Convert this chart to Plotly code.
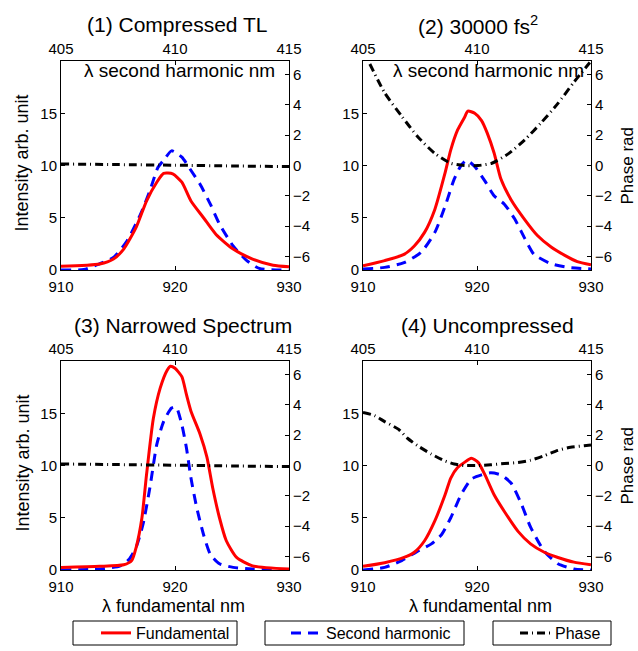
import plotly.graph_objects as go

# ---------------- data ----------------
titles = ["(1) Compressed TL", "(2) 30000 fs<sup>2</sup>", "(3) Narrowed Spectrum", "(4) Uncompressed"]

# Panel 1
p1_fund_x = [910, 913.4, 914.6, 915.5, 916.6, 917.5, 918.4, 919.0, 919.8, 920.6, 921.4, 922.5, 923.6, 925.1, 926.8, 928.6, 930]
p1_fund_y = [0.35, 0.57, 1.05, 2.0, 4.1, 6.6, 8.4, 9.25, 9.2, 8.4, 6.6, 5.0, 3.4, 2.0, 1.05, 0.45, 0.3]
p1_sh_x = [910, 912, 913.4, 914.6, 915.8, 917, 917.8, 918.5, 919.0, 919.7, 920.6, 921.3, 922.2, 923.1, 923.9, 925.1, 926.3, 927.4, 930]
p1_sh_y = [0.0, 0.05, 0.6, 1.2, 2.8, 5.4, 7.6, 9.8, 10.5, 11.4, 10.8, 9.7, 8.2, 6.3, 4.4, 2.3, 0.9, 0.15, 0.0]
p1_ph_x = [910, 915, 920, 925, 930]
p1_ph_y = [0.1, 0.06, 0.02, -0.03, -0.07]

# Panel 2
p2_fund_x = [910, 911.9, 913.6, 914.5, 915.4, 916.3, 917.2, 917.7, 918.3, 918.9, 919.2, 919.8, 920.4, 920.9, 921.5, 922.1, 923.0, 924.2, 925.3, 926.5, 927.7, 928.8, 930]
p2_fund_y = [0.4, 0.9, 1.5, 2.3, 3.6, 5.8, 9.3, 11.5, 13.4, 14.6, 15.2, 15.0, 14.3, 13.1, 11.2, 8.7, 6.7, 4.8, 3.3, 2.2, 1.4, 0.8, 0.5]
p2_sh_x = [910, 911.9, 913.6, 915.1, 916.3, 917.2, 918.0, 918.6, 919.1, 919.8, 920.7, 921.5, 922.4, 923.3, 924.2, 925.0, 926.5, 928.0, 930]
p2_sh_y = [0.1, 0.25, 0.7, 1.7, 3.6, 6.1, 8.7, 10.0, 10.5, 9.9, 8.5, 7.1, 6.3, 4.9, 3.0, 1.5, 0.6, 0.25, 0.1]
p2_ph_x = [910.6, 911.9, 913.4, 914.8, 916.3, 917.7, 918.9, 920.1, 921.3, 922.8, 924.2, 925.6, 927.1, 928.5, 929.9]
p2_ph_y = [6.7, 4.8, 3.25, 1.9, 0.8, 0.15, 0.0, 0.0, 0.15, 0.8, 1.7, 2.8, 4.1, 5.5, 6.8]

# Panel 3
p3_fund_x = [910, 913.4, 915.5, 916.2, 916.6, 917.1, 917.5, 918.1, 918.7, 919.3, 919.6, 920.0, 920.6, 921.0, 921.4, 922.2, 922.8, 923.3, 923.9, 924.5, 925.4, 926.8, 930]
p3_fund_y = [0.25, 0.35, 0.5, 0.9, 2.2, 5.0, 9.1, 14.5, 17.4, 19.1, 19.5, 19.3, 18.5, 16.8, 15.2, 13.0, 10.8, 7.9, 5.0, 2.8, 1.2, 0.4, 0.1]
p3_sh_x = [910, 913.4, 915.2, 916.0, 916.6, 917.2, 917.8, 918.4, 919.0, 919.7, 920.1, 920.6, 921.0, 921.4, 921.9, 922.5, 923.1, 923.9, 925.1, 926.8, 930]
p3_sh_y = [0.0, 0.1, 0.4, 1.05, 2.2, 4.4, 7.9, 12.0, 14.2, 15.5, 15.6, 13.9, 11.7, 8.8, 6.0, 3.4, 1.5, 0.6, 0.25, 0.1, 0.0]
p3_ph_x = [910, 915, 920, 925, 930]
p3_ph_y = [0.1, 0.06, 0.02, -0.03, -0.07]

# Panel 4
p4_fund_x = [910, 911.9, 913.6, 914.5, 915.4, 916.3, 917.2, 917.7, 918.3, 918.9, 919.5, 920.1, 920.7, 921.5, 922.4, 923.6, 924.7, 925.9, 927.1, 928.5, 930]
p4_fund_y = [0.35, 0.7, 1.2, 1.7, 2.8, 4.7, 7.2, 8.8, 9.8, 10.3, 10.7, 10.3, 9.1, 7.2, 5.6, 3.7, 2.5, 1.7, 1.2, 0.75, 0.5]
p4_sh_x = [910, 911.9, 913.4, 914.8, 916.0, 916.9, 917.7, 918.6, 919.5, 920.4, 921.2, 922.1, 923.0, 923.9, 924.7, 925.9, 927.1, 928.5, 930]
p4_sh_y = [0.0, 0.25, 0.9, 1.8, 2.5, 3.4, 5.0, 7.2, 8.7, 9.1, 9.3, 9.1, 8.3, 6.3, 4.1, 1.8, 0.6, 0.1, 0.0]
p4_ph_x = [910, 911, 911.9, 913.1, 913.9, 914.8, 916.0, 917.2, 918.0, 918.9, 920.1, 921.2, 922.4, 923.6, 924.7, 925.9, 927.1, 928.2, 929.4, 930]
p4_ph_y = [3.5, 3.3, 2.9, 2.4, 1.8, 1.3, 0.75, 0.3, 0.1, 0.0, 0.0, 0.05, 0.13, 0.2, 0.35, 0.65, 1.0, 1.2, 1.3, 1.35]

panels = [
    (p1_fund_x, p1_fund_y, p1_sh_x, p1_sh_y, p1_ph_x, p1_ph_y),
    (p2_fund_x, p2_fund_y, p2_sh_x, p2_sh_y, p2_ph_x, p2_ph_y),
    (p3_fund_x, p3_fund_y, p3_sh_x, p3_sh_y, p3_ph_x, p3_ph_y),
    (p4_fund_x, p4_fund_y, p4_sh_x, p4_sh_y, p4_ph_x, p4_ph_y),
]

fund_range = [910, 930]
sh_range = [405, 415]
fund_ticks = [910, 920, 930]
sh_ticks = [405, 410, 415]
int_ticks = [0, 5, 10, 15]
phase_ticks = [-6, -4, -2, 0, 2, 4, 6]

# ---------------- layout ----------------
W, H = 638, 651
FONT = "Liberation Sans, Arial, sans-serif"
px_x = [(61, 289), (363, 591), (61, 289), (363, 591)]
px_y = [(61, 270), (61, 270), (361, 570), (361, 570)]
title_pos = [(177, 25), (478, 25), (183, 325), (487, 325)]
sh_title_pos = [(179, 70), (488, 70)]
legend_boxes = [(73, 237), (265, 464), (493, 611)]   # x extents (px) of the legend frames
legend_text_x = [138, 328, 557]
legend_box_y = (621, 645)

fig = go.Figure()
layout = dict(
    width=W, height=H, margin=dict(l=0, r=0, t=0, b=0, autoexpand=False),
    paper_bgcolor="white", plot_bgcolor="white",
    font=dict(family=FONT, size=15, color="black"),
    showlegend=True,
)

def ax_common():
    return dict(showline=True, linecolor="black", linewidth=1, ticks="inside", ticklen=4,
                tickcolor="black", showgrid=False, zeroline=False, automargin=False,
                tickfont=dict(family=FONT, size=15, color="black"))

def sfx(n):
    return "" if n == 1 else str(n)

annotations = []
for i, (fx, fy, sx, sy, phx, phy) in enumerate(panels):
    xb, xt, yl, yr = 2 * i + 1, 2 * i + 2, 2 * i + 1, 2 * i + 2
    xd = [px_x[i][0] / W, px_x[i][1] / W]
    yd = [1 - px_y[i][1] / H, 1 - px_y[i][0] / H]

    # empty trace so that the top (second harmonic) axis is drawn
    fig.add_trace(go.Scatter(x=[], y=[], mode="lines", showlegend=False, hoverinfo="skip",
                             xaxis="x" + sfx(xt), yaxis="y" + sfx(yl)))
    fig.add_trace(go.Scatter(x=phx, y=phy, mode="lines", name="Phase",
                             line=dict(color="black", width=3, dash="8px,4px,1px,4px", shape="spline", smoothing=0.6),
                             xaxis="x" + sfx(xb), yaxis="y" + sfx(yr),
                             legend="legend3", showlegend=(i == 0)))
    fig.add_trace(go.Scatter(x=sx, y=sy, mode="lines", name="Second harmonic",
                             line=dict(color="#0000ff", width=3, dash="10px,7px", shape="spline", smoothing=0.6),
                             xaxis="x" + sfx(xb), yaxis="y" + sfx(yl),
                             legend="legend2", showlegend=(i == 0)))
    fig.add_trace(go.Scatter(x=fx, y=fy, mode="lines", name="Fundamental",
                             line=dict(color="#ff0000", width=3, shape="spline", smoothing=0.6),
                             xaxis="x" + sfx(xb), yaxis="y" + sfx(yl),
                             legend="legend", showlegend=(i == 0)))

    a = ax_common()
    a.update(domain=xd, anchor="y" + sfx(yl), range=fund_range, tickvals=fund_ticks, side="bottom",
             ticklabelstandoff=3)
    layout["xaxis" + sfx(xb)] = a

    a = ax_common()
    a.update(overlaying="x" + sfx(xb), anchor="y" + sfx(yl), side="top", range=sh_range, tickvals=sh_ticks)
    layout["xaxis" + sfx(xt)] = a

    a = ax_common()
    a.update(domain=yd, anchor="x" + sfx(xb), range=[0, 20], tickvals=int_ticks, side="left")
    layout["yaxis" + sfx(yl)] = a

    a = ax_common()
    a.update(overlaying="y" + sfx(yl), anchor="x" + sfx(xb), side="right", range=[-6.9, 6.9],
             tickvals=phase_ticks)
    layout["yaxis" + sfx(yr)] = a

    ycen = (px_y[i][0] + px_y[i][1]) / 2
    annotations.append(dict(text=titles[i], x=title_pos[i][0] / W, y=1 - title_pos[i][1] / H,
                            xref="paper", yref="paper", showarrow=False, xanchor="center", yanchor="middle",
                            font=dict(family=FONT, size=21, color="black")))
    if i < 2:
        annotations.append(dict(text="λ second harmonic nm", x=sh_title_pos[i][0] / W, y=1 - sh_title_pos[i][1] / H,
                                xref="paper", yref="paper", showarrow=False,
                                xanchor="center", yanchor="middle",
                                font=dict(family=FONT, size=19, color="black")))
    if i in (0, 2):
        annotations.append(dict(text="Intensity arb. unit", x=22 / W, y=1 - (ycen - 2) / H, textangle=-90,
                                xref="paper", yref="paper", showarrow=False,
                                xanchor="center", yanchor="middle",
                                font=dict(family=FONT, size=18, color="black")))
    else:
        annotations.append(dict(text="Phase rad", x=627 / W, y=1 - ycen / H, textangle=-90,
                                xref="paper", yref="paper", showarrow=False,
                                xanchor="center", yanchor="middle",
                                font=dict(family=FONT, size=17, color="black")))
    if i >= 2:
        annotations.append(dict(text="λ fundamental nm", x=(173 if i == 2 else 480) / W, y=1 - 606 / H,
                                xref="paper", yref="paper", showarrow=False,
                                xanchor="center", yanchor="middle",
                                font=dict(family=FONT, size=18, color="black")))

# legend frames
shapes = []
for (x0, x1) in legend_boxes:
    shapes.append(dict(type="rect", xref="paper", yref="paper", x0=x0 / W, x1=x1 / W,
                       y0=1 - legend_box_y[1] / H, y1=1 - legend_box_y[0] / H,
                       line=dict(color="black", width=1), fillcolor="rgba(0,0,0,0)", layer="above"))

leg_common = dict(orientation="h", borderwidth=0, bgcolor="rgba(0,0,0,0)",
                  font=dict(family=FONT, size=16, color="black"),
                  xanchor="left", yanchor="middle", yref="paper", xref="paper",
                  y=1 - (legend_box_y[0] + legend_box_y[1]) / 2 / H)
layout["legend"] = dict(leg_common, x=(legend_text_x[0] - 42) / W)
layout["legend2"] = dict(leg_common, x=(legend_text_x[1] - 42) / W)
layout["legend3"] = dict(leg_common, x=(legend_text_x[2] - 42) / W)
layout["annotations"] = annotations
layout["shapes"] = shapes

fig.update_layout(**layout)
fig.write_html("out.html")
